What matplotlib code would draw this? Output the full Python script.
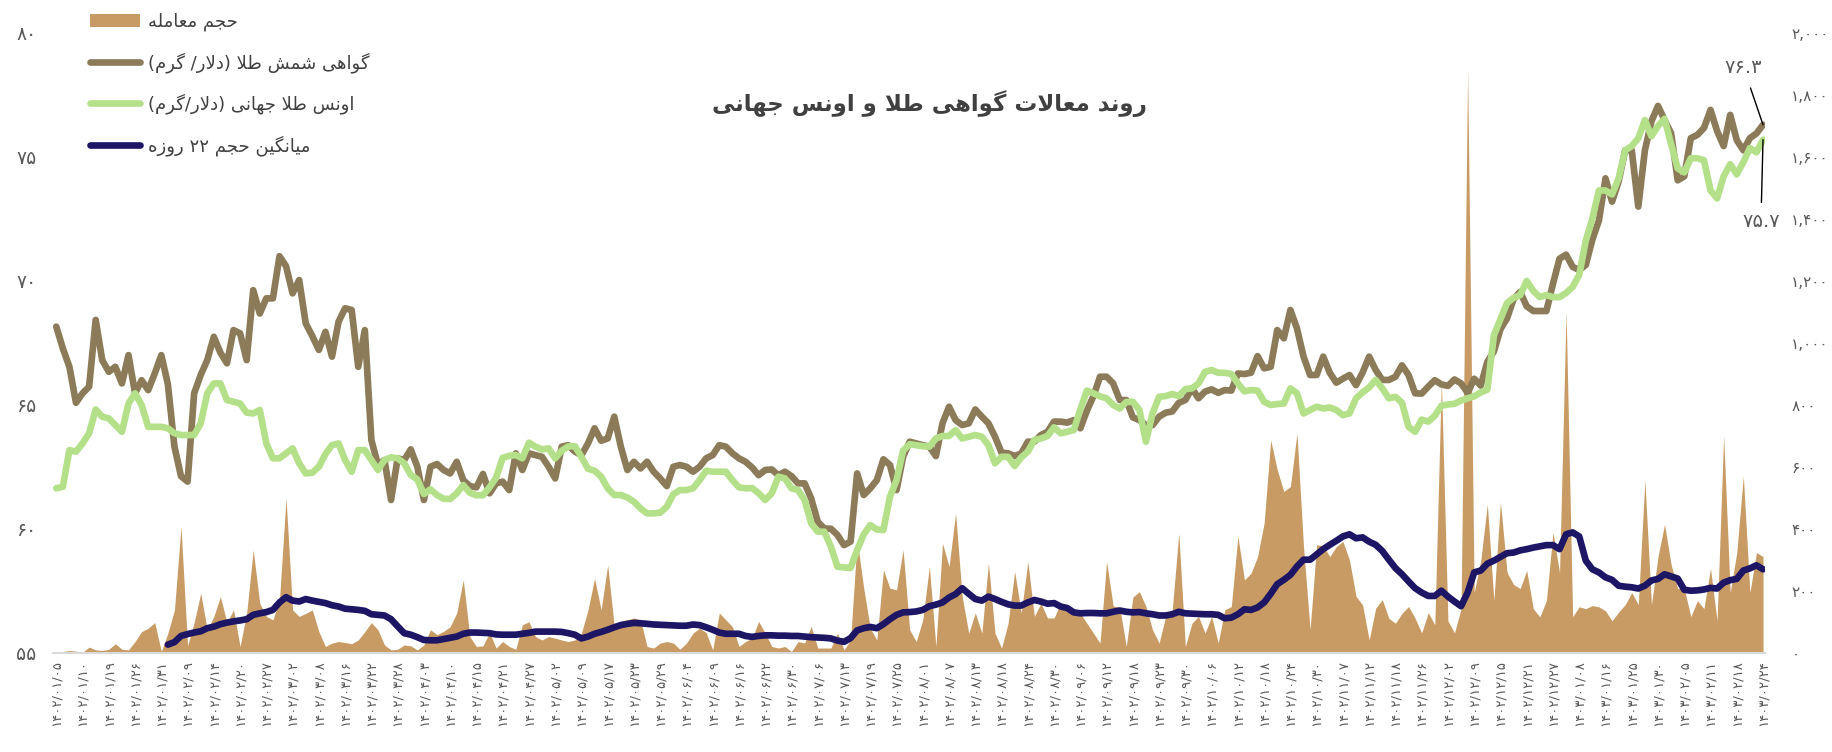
import re
import numpy as np
import matplotlib
matplotlib.use('Agg')
import matplotlib.pyplot as plt
from matplotlib.patches import Patch
from matplotlib.lines import Line2D

# ---- data ----
dates = ['1402/01/05', '1402/01/10', '1402/01/19', '1402/01/26', '1402/01/31', '1402/02/09',
         '1402/02/14', '1402/02/20', '1402/02/27', '1402/03/02', '1402/03/08', '1402/03/16',
         '1402/03/22', '1402/03/28', '1402/04/03', '1402/04/10', '1402/04/15', '1402/04/21',
         '1402/04/27', '1402/05/02', '1402/05/09', '1402/05/17', '1402/05/23', '1402/05/29',
         '1402/06/04', '1402/06/09', '1402/06/16', '1402/06/22', '1402/06/30', '1402/07/06',
         '1402/07/13', '1402/07/19', '1402/07/25', '1402/08/01', '1402/08/07', '1402/08/13',
         '1402/08/18', '1402/08/24', '1402/08/30', '1402/09/06', '1402/09/12', '1402/09/18',
         '1402/09/23', '1402/09/30', '1402/10/06', '1402/10/12', '1402/10/18', '1402/10/24',
         '1402/10/30', '1402/11/07', '1402/11/12', '1402/11/18', '1402/11/26', '1402/12/02',
         '1402/12/09', '1402/12/15', '1402/12/21', '1402/12/27', '1403/01/08', '1403/01/16',
         '1403/01/25', '1403/01/30', '1403/02/05', '1403/02/11', '1403/02/18', '1403/02/24']

# gold bullion certificate, USD / gram (left axis)
cert = [68.16, 67.28, 66.54, 65.09, 65.47, 65.74, 68.43, 66.81, 66.34, 66.54, 65.87, 67.01, 65.47,
        66.0, 65.6, 66.27, 67.01, 65.84, 63.32, 62.13, 61.91, 65.47, 66.21, 66.81, 67.75, 67.11,
        66.68, 68.02, 67.89, 66.81, 69.63, 68.69, 69.3, 69.3, 71.0, 70.6, 69.5, 70.04, 68.29, 67.78,
        67.22, 67.95, 66.95, 68.36, 68.9, 68.83, 66.54, 68.02, 63.59, 62.58, 62.78, 61.17,
        62.85, 62.78, 63.21, 62.51, 61.17, 62.51, 62.62, 62.38, 62.24, 62.71, 61.97, 61.73, 61.68,
        62.22, 61.44, 61.84, 61.91, 61.57, 63.05, 62.38, 63.05, 62.98, 62.91, 62.51, 62.04, 63.32,
        63.38, 63.12, 62.98, 63.45, 64.06, 63.56, 63.65, 64.53, 63.32, 62.38, 62.71, 62.44, 62.71,
        62.31, 62.04, 61.73, 62.51, 62.58, 62.51, 62.31, 62.51, 62.85, 62.98, 63.38, 63.32, 63.05,
        62.85, 62.71, 62.48, 62.17, 62.38, 62.4, 62.17, 62.31, 62.13, 61.84, 61.84, 61.23, 60.29,
        60.02, 60.01, 59.76, 59.35, 59.49, 62.24, 61.37, 61.64, 61.97, 62.81, 62.58, 61.57, 62.91,
        63.52, 63.45, 63.38, 63.32, 62.94, 64.26, 64.93, 64.39, 64.19, 64.26, 64.82, 64.53, 64.26,
        63.72, 63.08, 63.05, 62.94, 63.05, 63.52, 63.52, 63.79, 63.92, 64.33, 64.33, 64.29, 64.39,
        64.06, 64.77, 65.36, 66.14, 66.14, 65.87, 65.2, 65.2, 64.5, 64.39, 64.19, 64.19, 64.53,
        64.69, 64.74, 65.09, 65.2, 65.67, 65.27, 65.54, 65.63, 65.49, 65.6, 65.58, 66.27, 66.25,
        66.3, 66.97, 66.48, 66.54, 68.02, 67.69, 68.83, 68.09, 66.95, 66.21, 66.21, 66.95, 66.3,
        65.9, 66.06, 66.21, 65.8, 66.31, 66.95, 66.41, 66.01, 66.01, 66.14, 66.6, 66.21, 65.47,
        65.46, 65.74, 66.0, 65.83, 65.77, 66.03, 65.87, 65.49, 66.06, 65.78, 66.74, 67.16, 68.06,
        68.49, 69.27, 69.56, 68.98, 68.79, 68.79, 68.79, 69.89, 70.9, 71.06, 70.57, 70.44, 70.65,
        71.67, 72.44, 74.14, 73.2, 74.01, 75.27, 75.27, 73.0, 75.27, 76.44, 77.06, 76.49, 75.95,
        74.06, 74.22, 75.76, 75.89, 76.17, 76.9, 76.05, 75.44, 76.7, 75.68, 75.27, 75.76, 75.95,
        76.3]

# world gold ounce, USD / gram (left axis)
ounce = [61.64, 61.70, 63.18, 63.12, 63.45, 63.86, 64.82, 64.53, 64.46, 64.19, 63.92, 65.06, 65.47,
         65.0, 64.12, 64.12, 64.12, 64.06, 63.86, 63.79, 63.79, 63.79, 64.26, 65.47, 65.87, 65.87,
         65.2, 65.13, 65.06, 64.69, 64.66, 64.8, 63.45, 62.85, 62.85, 63.05, 63.25, 62.65, 62.24,
         62.27, 62.51, 63.02, 63.38, 63.45, 62.78, 62.31, 63.18, 63.18, 62.78, 62.38, 62.78, 62.89,
         62.85, 62.65, 62.18, 62.0, 61.41, 61.6, 61.37, 61.22, 61.21, 61.44, 61.77, 61.46, 61.36,
         61.36, 61.68, 62.07, 62.87, 62.95, 62.98, 62.85, 63.48, 63.32, 63.21, 63.25, 62.85, 63.16,
         63.33, 63.34, 62.91, 62.43, 62.35, 62.11, 61.64, 61.37, 61.37, 61.27, 61.1, 60.83, 60.63,
         60.63, 60.66, 60.9, 61.4, 61.57, 61.57, 61.64, 61.97, 62.35, 62.31, 62.31, 62.31, 61.97,
         61.68, 61.64, 61.65, 61.44, 61.17, 61.44, 62.11, 62.04, 61.64, 61.57, 61.17, 60.23, 59.89,
         59.89, 59.29, 58.48, 58.45, 58.43, 59.15, 59.78, 60.16, 59.98, 59.96, 61.3, 61.97, 63.16,
         63.42, 63.38, 63.34, 63.32, 63.65, 63.75, 63.75, 63.99, 63.65, 63.72, 63.79, 63.72, 63.38,
         62.65, 62.91, 62.91, 62.54, 62.89, 63.12, 63.59, 63.65, 63.75, 64.1, 63.86, 63.92, 63.99,
         64.82, 65.58, 65.47, 65.35, 65.27, 65.0, 64.86, 65.12, 65.13, 64.8, 63.52, 64.66, 65.33,
         65.36, 65.44, 65.36, 65.64, 65.67, 65.87, 66.34, 66.41, 66.3, 66.3, 66.25, 65.87, 65.55,
         65.6, 65.58, 65.13, 65.0, 65.04, 65.06, 65.67, 65.47, 64.66, 64.8, 64.93, 64.86, 64.9,
         64.8, 64.59, 64.66, 65.27, 65.51, 65.71, 66.01, 65.67, 65.27, 65.33, 65.09, 64.12, 63.92,
         64.41, 64.33, 64.57, 64.97, 65.02, 65.05, 65.18, 65.27, 65.35, 65.51, 65.62, 67.81, 68.46,
         69.11, 69.32, 69.43, 70.0, 69.6, 69.35, 69.43, 69.35, 69.35, 69.52, 69.76, 70.25, 71.62,
         72.52, 73.65, 73.65, 73.49, 74.14, 75.27, 75.44, 75.76, 76.49, 75.84, 76.25, 76.54, 75.52,
         74.54, 74.38, 74.95, 74.95, 74.87, 73.65, 73.33, 74.22, 74.71, 74.3, 74.79, 75.36, 75.19,
         75.7]

# traded volume (right axis)
volume = [3, 5, 8, 6, 2, 19, 10, 8, 12, 30, 12, 10, 37, 69, 80, 98, 5, 64, 139, 408, 23, 98, 193,
          75, 118, 182, 98, 139, 21, 128, 332, 160, 118, 107, 171, 499, 139, 118, 128, 139, 69, 21,
          32, 37, 34, 30, 42, 69, 98, 75, 26, 10,
          12, 26, 23, 10, 26, 75, 59, 70, 85, 129, 236, 53, 21, 23, 66, 16, 37, 21, 12, 91, 101,
          53, 42, 53, 48, 42, 37, 42, 64, 139, 241, 139, 284, 85, 102, 107, 113, 107, 21, 16, 32,
          37, 32, 12, 32, 64, 80, 66, 10, 129, 107, 85,
          21, 37, 48, 102, 64, 21, 16, 21, 5, 37, 32, 86, 16, 16, 16, 64, 10, 42, 365, 209, 80, 42,
          268, 209, 204, 333, 75, 37, 107, 279, 21, 354, 279, 451, 182, 64, 129, 64, 290, 64, 16,
          96, 263, 129, 295, 118, 161, 113, 113, 161, 139, 129,
          128, 96, 64, 32, 295, 152, 147, 21, 180, 198, 150, 75, 32, 118, 139, 386, 21, 96, 118,
          64, 118, 32, 139, 150, 376, 236, 257, 311, 419, 687, 591, 521, 537, 709, 343, 75, 349,
          346, 311, 343, 360, 300, 183, 155, 42, 145, 172, 112, 96, 128, 150, 112,
          65, 130, 91, 880, 104, 65, 143, 1881, 195, 298, 480, 169, 487, 260, 221, 208, 266, 143,
          117, 169, 389, 260, 1103, 117, 149, 143, 153, 149, 136, 104, 132, 156, 195, 156, 558,
          156, 311, 415, 285, 208, 208, 117, 169, 143, 273, 104, 701, 195, 324, 571, 195, 324, 311]

# 22-day average volume (right axis), starts after the first weeks
vol_ma = [np.nan] * 17 + [
    27, 35, 55, 61, 66, 70, 80, 85, 93, 98, 102, 105, 109, 123, 128, 132, 139, 163, 180, 169,
    166, 174, 169, 165, 161, 154, 150, 143, 141, 139, 136, 125, 123, 121, 109,
    86, 64, 59, 51, 42, 41, 41, 45, 49, 53, 62, 66, 66, 65, 64, 60, 59, 59, 59, 62, 65, 69, 69,
    69, 69, 68, 64, 59, 47, 53, 62, 68, 75, 83, 90, 94, 97, 96, 94, 92, 91, 90, 89, 88, 88, 92,
    90, 83, 75, 66, 62, 62,
    62, 55, 52, 55, 57, 57, 56, 56, 55, 55, 53, 51, 50, 49, 47, 40, 36, 48, 73, 80, 84, 80, 93,
    109, 123, 131, 132, 134, 139, 151, 156, 163, 179, 190, 209, 191, 174, 169, 182, 174, 165,
    157, 153, 153, 163, 171, 166, 159, 161, 150, 145, 131,
    128, 129, 129, 128, 128, 133, 137, 133, 131, 132, 128, 125, 121, 121, 125, 133, 128, 127,
    126, 125, 125, 123, 112, 114, 125, 141, 139, 147, 163, 191, 222, 236, 252, 279, 301, 301,
    318, 335, 349, 362, 376, 383, 370, 373, 359, 349, 329, 301, 274, 254, 231, 209,
    195, 184, 184, 201, 182, 166, 151, 195, 260, 266, 288, 298, 310, 322, 324, 331, 335, 340,
    344, 348, 348, 335, 383, 389, 376, 298, 270, 260, 244, 236, 217, 214, 212, 208, 217, 234,
    239, 254, 247, 240, 204, 201, 202, 205, 210, 208, 227, 235, 239, 266, 273, 283, 270]

title_txt = 'روند معالات گواهی طلا و اونس جهانی'
legend_txt = ['حجم معامله', 'گواهی شمش طلا (دلار/ گرم)', 'اونس طلا جهانی (دلار/گرم)',
              'میانگین حجم ۲۲ روزه']

# ---- Persian text: matplotlib does no Arabic shaping, so do it by hand ----
# letter: (isolated, final, initial, medial) presentation forms
FORMS = {
    'ا': (0xFE8D, 0xFE8E, None, None), 'آ': (0xFE81, 0xFE82, None, None),
    'ب': (0xFE8F, 0xFE90, 0xFE91, 0xFE92), 'پ': (0xFB56, 0xFB57, 0xFB58, 0xFB59),
    'ت': (0xFE95, 0xFE96, 0xFE97, 0xFE98), 'ج': (0xFE9D, 0xFE9E, 0xFE9F, 0xFEA0),
    'چ': (0xFB7A, 0xFB7B, 0xFB7C, 0xFB7D), 'ح': (0xFEA1, 0xFEA2, 0xFEA3, 0xFEA4),
    'خ': (0xFEA5, 0xFEA6, 0xFEA7, 0xFEA8), 'د': (0xFEA9, 0xFEAA, None, None),
    'ر': (0xFEAD, 0xFEAE, None, None), 'ز': (0xFEAF, 0xFEB0, None, None),
    'س': (0xFEB1, 0xFEB2, 0xFEB3, 0xFEB4), 'ش': (0xFEB5, 0xFEB6, 0xFEB7, 0xFEB8),
    'ط': (0xFEC1, 0xFEC2, 0xFEC3, 0xFEC4), 'ع': (0xFEC9, 0xFECA, 0xFECB, 0xFECC),
    'ف': (0xFED1, 0xFED2, 0xFED3, 0xFED4), 'ق': (0xFED5, 0xFED6, 0xFED7, 0xFED8),
    'ک': (0xFB8E, 0xFB8F, 0xFB90, 0xFB91), 'گ': (0xFB92, 0xFB93, 0xFB94, 0xFB95),
    'ل': (0xFEDD, 0xFEDE, 0xFEDF, 0xFEE0), 'م': (0xFEE1, 0xFEE2, 0xFEE3, 0xFEE4),
    'ن': (0xFEE5, 0xFEE6, 0xFEE7, 0xFEE8), 'ه': (0xFEE9, 0xFEEA, 0xFEEB, 0xFEEC),
    'و': (0xFEED, 0xFEEE, None, None), 'ی': (0xFBFC, 0xFBFD, 0xFBFE, 0xFBFF),
}
DIGITS = str.maketrans('0123456789', '۰۱۲۳۴۵۶۷۸۹')


def joins_next(c):
    return c in FORMS and FORMS[c][2] is not None


def fa(s):
    out = []
    i = 0
    while i < len(s):
        c = s[i]
        if c not in FORMS:
            out.append(c)
            i += 1
            continue
        link_prev = i > 0 and joins_next(s[i - 1])
        if c == 'ل' and i + 1 < len(s) and s[i + 1] == 'ا':  # lam-alef
            out.append(chr(0xFEFC if link_prev else 0xFEFB))
            i += 2
            continue
        link_next = joins_next(c) and i + 1 < len(s) and s[i + 1] in FORMS
        iso, fin, ini, med = FORMS[c]
        g = med if (link_prev and link_next) else fin if link_prev else ini if link_next else iso
        out.append(chr(g))
        i += 1
    vis = ''.join({'(': ')', ')': '('}.get(c, c) for c in reversed(out))
    # numbers keep left-to-right order
    vis = re.sub(r'[0-9۰-۹][0-9۰-۹.,]*', lambda m: m.group(0)[::-1], vis)
    return vis


def fa_num(s):
    return s.translate(DIGITS)


# ---- styling ----
c_vol = '#C99B64'
c_cert = '#8C7B59'
c_ounce = '#B4E08A'
c_ma = '#1C1665'
c_txt = '#595959'
lw = 4.8
plt.rcParams['font.family'] = ['DejaVu Sans']

x = np.arange(len(cert))

fig = plt.figure(figsize=(18.33, 7.52), dpi=100)
ax = fig.add_axes([53 / 1833, 99 / 752, (1765 - 53) / 1833, 620 / 752])
ax2 = ax.twinx()

# volume + its average on the right-hand scale (drawn underneath)
ax.fill_between(x, 0, volume, color=c_vol, lw=0, zorder=1)
ax.plot(x, vol_ma, color=c_ma, lw=lw, solid_capstyle='round', solid_joinstyle='round', zorder=2)
ax.set_ylim(0, 2000)
ax.set_xlim(-0.5, 260.3)

# prices on the left-hand scale (drawn on top)
ax2.plot(x, cert, color=c_cert, lw=lw, solid_joinstyle='round', solid_capstyle='round')
ax2.plot(x, ounce, color=c_ounce, lw=lw, solid_joinstyle='round', solid_capstyle='round')
ax2.set_ylim(55, 80)

ax.yaxis.set_ticks_position('right')
ax2.yaxis.set_ticks_position('left')

vticks = list(range(0, 2001, 200))
ax.set_yticks(vticks)
ax.set_yticklabels([fa_num(f'{v:,}') for v in vticks])
pticks = list(range(55, 81, 5))
ax2.set_yticks(pticks)
ax2.set_yticklabels([fa_num(str(v)) for v in pticks])

ax.set_xticks(np.arange(0, len(cert), 4))
ax.set_xticklabels([fa_num(d) for d in dates], rotation=90)

ax.tick_params(axis='y', length=0, pad=19, labelsize=11, labelcolor=c_txt)
ax2.tick_params(axis='y', length=0, pad=12, labelsize=13.5, labelcolor=c_txt)
ax.tick_params(axis='x', length=0, pad=5, labelsize=9.5, labelcolor=c_txt)

for a in (ax, ax2):
    for sp in a.spines.values():
        sp.set_visible(False)
ax.spines['bottom'].set_visible(True)
ax.spines['bottom'].set_color('#D9D9D9')
ax.spines['bottom'].set_linewidth(1.5)

# end-value callouts
ax2.annotate(fa_num('76.3'), xy=(x[-1], cert[-1]), xytext=(-14, 41), textcoords='offset points',
             ha='center', va='center', fontsize=14, color=c_txt,
             arrowprops=dict(arrowstyle='-', color='black', lw=1, shrinkA=6, shrinkB=0))
ax2.annotate(fa_num('75.7'), xy=(x[-1], ounce[-1]), xytext=(-1.5, -59), textcoords='offset points',
             ha='center', va='center', fontsize=14, color=c_txt,
             arrowprops=dict(arrowstyle='-', color='black', lw=1, shrinkA=5, shrinkB=0))

fig.text(929 / 1833, 1 - 104 / 752, fa(title_txt), ha='center', va='center',
         fontsize=16.5, fontweight='bold', color='#404040')

handles = [Patch(facecolor=c_vol, edgecolor='none'),
           Line2D([], [], color=c_cert, lw=lw, solid_capstyle='round'),
           Line2D([], [], color=c_ounce, lw=lw, solid_capstyle='round'),
           Line2D([], [], color=c_ma, lw=lw, solid_capstyle='round')]
fig.legend(handles, [fa(t) for t in legend_txt], loc='upper left',
           bbox_to_anchor=(90 / 1833, 1 - 13 / 752), frameon=False, fontsize=13,
           labelcolor='#404040', handlelength=2.77, handleheight=0.7, handletextpad=0.47,
           labelspacing=1.15, borderpad=0, borderaxespad=0)

fig.savefig('out.png', dpi=100)
